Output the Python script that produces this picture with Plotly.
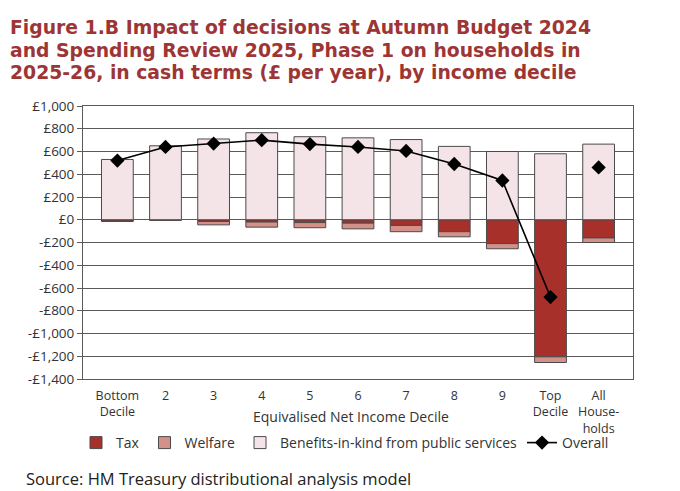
import plotly.graph_objects as go

# categories and values (£ per year)
deciles = ["Bottom<br>Decile", "2", "3", "4", "5", "6", "7", "8", "9",
           "Top<br>Decile", "All<br>House-<br>holds"]
tax = [-15, -5, -15, -20, -25, -30, -50, -105, -210, -1205, -160]
welfare = [0, 0, -30, -45, -45, -50, -55, -45, -45, -50, -40]
benefits = [530, 650, 710, 765, 730, 720, 705, 645, 600, 580, 665]
overall = [520, 640, 670, 700, 665, 640, 605, 490, 345, -680, 460]

y_ticks = [1000, 800, 600, 400, 200, 0, -200, -400, -600, -800, -1000, -1200, -1400]
y_min, y_max = -1400, 1000

title_lines = ["Figure 1.B Impact of decisions at Autumn Budget 2024",
               "and Spending Review 2025, Phase 1 on households in",
               "2025-26, in cash terms (£ per year), by income decile"]


def money(v):
    s = f"£{abs(v):,}"
    return "-" + s if v < 0 else s


FONT = "Open Sans"
GRID = "#5a5a5a"
OUTLINE = "#4a4a4a"

# the page body adds an 8px margin, so the figure is drawn 8px in from the window
OFF = 8
W, H = 680 - OFF, 491 - OFF
L, T = 83 - OFF, 106 - OFF
R, B = W - (633 - OFF), H - (379 - OFF)
plot_w, plot_h = W - L - R, H - T - B


def px(x):  # window pixel -> paper x
    return (x - OFF - L) / plot_w


def py(y):  # window pixel -> paper y
    return (H - B - (y - OFF)) / plot_h


fig = go.Figure()
fig.add_trace(go.Bar(x=deciles, y=tax, name="Tax",
                     marker=dict(color="#a8302b", line=dict(color=OUTLINE, width=1))))
fig.add_trace(go.Bar(x=deciles, y=welfare, name="Welfare",
                     marker=dict(color="#d49189", line=dict(color=OUTLINE, width=1))))
fig.add_trace(go.Bar(x=deciles, y=benefits, name="Benefits-in-kind from public services",
                     marker=dict(color="#f4e4e7", line=dict(color=OUTLINE, width=1))))
# overall line joins the deciles only, the all-households point stands alone
fig.add_trace(go.Scatter(x=deciles[:-1], y=overall[:-1], name="Overall",
                         mode="lines+markers",
                         line=dict(color="black", width=1.6),
                         marker=dict(symbol="diamond", size=11, color="black")))
fig.add_trace(go.Scatter(x=deciles[-1:], y=overall[-1:], name="Overall",
                         mode="markers", showlegend=False,
                         marker=dict(symbol="diamond", size=11, color="black")))

annotations = []
for i, line in enumerate(title_lines):
    annotations.append(dict(
        text=f"<b>{line}</b>", xref="paper", yref="paper",
        x=px(8), y=py(28 + 22 * i), xanchor="left", yanchor="middle",
        showarrow=False,
        font=dict(family="DejaVu Sans", size=18.8, color="#9e3535")))
annotations.append(dict(
    text="Equivalised Net Income Decile", xref="paper", yref="paper",
    x=px(351), y=py(416), xanchor="center", yanchor="middle",
    showarrow=False, font=dict(size=14, color="#333333")))
annotations.append(dict(
    text="Source: HM Treasury distributional analysis model",
    xref="paper", yref="paper", x=px(24), y=py(478),
    xanchor="left", yanchor="middle", showarrow=False,
    font=dict(size=16.5, color="#222222")))

fig.update_layout(
    width=W, height=H,
    barmode="relative",
    bargap=0.34,
    paper_bgcolor="white",
    plot_bgcolor="white",
    font=dict(family=FONT, size=13.5, color="#333333"),
    margin=dict(l=L, r=R, t=T, b=B, autoexpand=False),
    showlegend=True,
    legend=dict(orientation="h", xref="paper", x=px(345), xanchor="center",
                yref="paper", y=py(443), yanchor="middle",
                bgcolor="rgba(0,0,0,0)",
                font=dict(size=14, color="#333333"),
                traceorder="normal", itemwidth=30),
    xaxis=dict(showgrid=False, showline=True, linecolor=GRID, mirror=True,
               ticks="", tickfont=dict(size=12.5), ticklabelstandoff=5),
    xaxis2=dict(overlaying="x", anchor="free",
                position=(0 - y_min) / (y_max - y_min),
                range=[-0.5, len(deciles) - 0.5],
                tickvals=[i + 0.5 for i in range(len(deciles) - 1)],
                ticks="outside", ticklen=4, tickcolor=GRID,
                showticklabels=False, showgrid=False, showline=False,
                zeroline=False),
    yaxis=dict(range=[y_min, y_max], tickvals=y_ticks,
               ticktext=[money(v) for v in y_ticks],
               showgrid=True, gridcolor=GRID, gridwidth=1,
               zeroline=True, zerolinecolor=GRID, zerolinewidth=1,
               showline=True, linecolor=GRID, mirror=True,
               ticks="outside", ticklen=5, tickcolor=GRID,
               tickfont=dict(size=13.5)),
    annotations=annotations,
)

fig.write_html("out.html")
